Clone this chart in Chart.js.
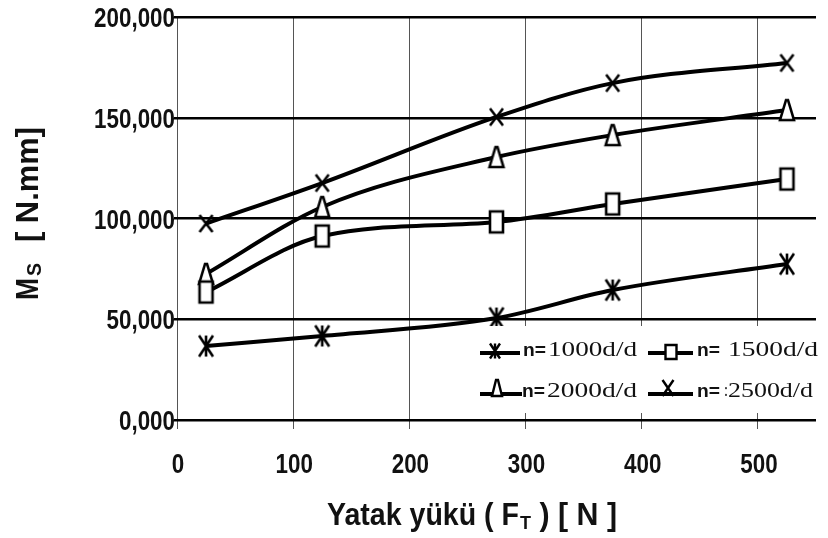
<!DOCTYPE html>
<html>
<head>
<meta charset="utf-8">
<script src="https://cdn.jsdelivr.net/npm/chart.js"></script>
<style>
html, body { margin: 0; padding: 0; background: #fff; }
#wrap { width: 828px; height: 538px; position: relative; }
</style>
</head>
<body>
<div id="wrap"><canvas id="myChart"></canvas></div>
<script>
// bearing load [N]
var loads = [25, 125, 275, 375, 525];
// friction moment Ms [N.mm] per speed
var n1000 = [36700, 41700, 50600, 64500, 77400];
var n1500 = [63500, 91300, 98300, 107200, 119600];
var n2000 = [72500, 105700, 130500, 141400, 153800];
var n2500 = [97500, 117600, 150400, 167200, 177200];
var speeds = ['1000d/d', '1500d/d', '2000d/d', '2500d/d'];
var xTicks = [0, 100, 200, 300, 400, 500];
var yTicks = [0, 50000, 100000, 150000, 200000];

function drawMarker(ctx, kind, cx, cy, w, h, lw) {
    ctx.save();
    ctx.strokeStyle = '#000';
    ctx.fillStyle = '#fff';
    ctx.lineWidth = lw;
    var l = cx - w / 2, r = cx + w / 2, t = cy - h / 2, b = cy + h / 2;
    ctx.beginPath();
    if (kind == 'star') {
        ctx.moveTo(l, t); ctx.lineTo(r, b);
        ctx.moveTo(r, t); ctx.lineTo(l, b);
        ctx.moveTo(cx, t); ctx.lineTo(cx, b);
        ctx.stroke();
    } else if (kind == 'cross') {
        ctx.moveTo(l, t); ctx.lineTo(r, b);
        ctx.moveTo(r, t); ctx.lineTo(l, b);
        ctx.stroke();
    } else if (kind == 'rect') {
        ctx.rect(l, t, w, h);
        ctx.fill(); ctx.stroke();
    } else {
        ctx.moveTo(l, b); ctx.lineTo(cx - 1, t); ctx.lineTo(cx + 1, t); ctx.lineTo(r, b);
        ctx.closePath();
        ctx.fill(); ctx.stroke();
    }
    ctx.restore();
}

function markerCanvas(kind, w, h) {
    var c = document.createElement('canvas');
    c.width = w + 6;
    c.height = h + 6;
    drawMarker(c.getContext('2d'), kind, c.width / 2, c.height / 2, w, h, 2.6);
    return c;
}

var kinds = ['star', 'rect', 'tri', 'cross'];
var markers = [
    markerCanvas('star', 14, 21),
    markerCanvas('rect', 13, 21),
    markerCanvas('tri', 14, 20),
    markerCanvas('cross', 13, 17)
];

function pts(vals) {
    return loads.map(function (x, i) { return { x: x, y: vals[i] }; });
}

function drawFit(ctx, s, x, y, font, w) {
    ctx.save();
    ctx.font = font;
    var m = ctx.measureText(s).width;
    ctx.translate(x, y);
    ctx.scale(w / m, 1);
    ctx.fillText(s, 0, 0);
    ctx.restore();
}

// narrow text: natural width squeezed by a factor
function drawNarrow(ctx, s, x, y, font, k, align) {
    ctx.save();
    ctx.font = font;
    var m = ctx.measureText(s).width * k;
    var x0 = align == 'right' ? x - m : (align == 'center' ? x - m / 2 : x);
    ctx.translate(x0, y);
    ctx.scale(k, 1);
    ctx.textAlign = 'left';
    ctx.fillText(s, 0, 0);
    ctx.restore();
}

var sans = "'Liberation Sans', Arial, sans-serif";
var serif = "'Liberation Serif', 'Times New Roman', serif";

var extras = {
    id: 'extras',
    afterDraw: function (chart) {
        var ctx = chart.ctx;
        var xs = chart.scales.x, ys = chart.scales.y;
        ctx.save();
        ctx.fillStyle = '#111';
        ctx.textBaseline = 'alphabetic';
        ctx.textAlign = 'left';

        // tick labels
        xs.ticks.forEach(function (t) {
            drawNarrow(ctx, String(t.value), xs.getPixelForValue(t.value) + 1, 473, 'bold 28px ' + sans, 0.8, 'center');
        });
        ys.ticks.forEach(function (t) {
            var lab = (t.value / 1000).toFixed(3).replace('.', ',');
            drawNarrow(ctx, lab, 175, ys.getPixelForValue(t.value) + 10, 'bold 28px ' + sans, 0.8, 'right');
        });

        // x axis title with subscript
        drawFit(ctx, 'Yatak yükü ( F', 327, 525, 'bold 31px ' + sans, 192);
        drawFit(ctx, 'T', 520, 529, 'bold 19px ' + sans, 11);
        drawFit(ctx, ' ) [ N ]', 531, 525, 'bold 31px ' + sans, 86);

        // y axis title, rotated
        ctx.save();
        ctx.translate(38, 300);
        ctx.rotate(-Math.PI / 2);
        drawFit(ctx, 'M', 0, 0, 'bold 31px ' + sans, 22);
        drawFit(ctx, 'S', 24, 3, 'bold 20px ' + sans, 13);
        drawFit(ctx, '[ N.mm]', 58, 0, 'bold 31px ' + sans, 115);
        ctx.restore();

        // legend box
        ctx.fillStyle = '#fff';
        ctx.fillRect(472, 326, 356, 87);
        var pos = [[480, 353, 523, 548], [648, 353, 697, 728], [480, 394, 522, 547], [648, 394, 697, 728]];
        var lineEnd = [520, 693, 522, 693];
        var mk = [[495, 351, 10, 15], [671, 352, 11, 14], [497, 388, 10, 16], [668, 388, 11, 16]];
        var textW = [89, 90, 90, 85];
        for (var i = 0; i < 4; i++) {
            var p = pos[i];
            ctx.strokeStyle = '#000';
            ctx.lineWidth = 4;
            ctx.beginPath();
            ctx.moveTo(p[0], p[1]);
            ctx.lineTo(lineEnd[i], p[1]);
            ctx.stroke();
            drawMarker(ctx, kinds[i], mk[i][0], mk[i][1], mk[i][2], mk[i][3], 2.4);
            ctx.fillStyle = '#111';
            drawFit(ctx, 'n=', p[2], p[1] + 3, 'bold 19px ' + sans, 23);
            if (i == 3) drawFit(ctx, ':', 724, p[1] + 2, '18px ' + serif, 4);
            drawFit(ctx, speeds[i], p[3], p[1] + 3, '22px ' + serif, textW[i]);
        }
        ctx.restore();
    }
};

var lineStyle = {
    borderColor: '#000',
    backgroundColor: '#000',
    borderWidth: 4,
    cubicInterpolationMode: 'monotone',
    pointRadius: 8,
    fill: false
};

function makeSet(i, vals) {
    return Object.assign({ label: 'n=' + speeds[i], data: pts(vals), pointStyle: markers[i] }, lineStyle);
}

var ctx = document.getElementById('myChart').getContext('2d');
var myChart = new Chart(ctx, {
    type: 'line',
    data: {
        datasets: [
            makeSet(0, n1000),
            makeSet(1, n1500),
            makeSet(2, n2000),
            makeSet(3, n2500)
        ]
    },
    options: {
        responsive: true,
        maintainAspectRatio: false,
        animation: false,
        layout: {
            padding: { left: 0, right: 10, top: 17, bottom: 0 }
        },
        plugins: {
            colors: { enabled: false },
            legend: { display: false },
            tooltip: { enabled: false }
        },
        scales: {
            x: {
                type: 'linear',
                min: 0,
                max: 550,
                afterBuildTicks: function (scale) {
                    scale.ticks = xTicks.map(function (v) { return { value: v }; });
                },
                afterFit: function (scale) { scale.height = 118; },
                border: { display: false },
                grid: {
                    color: '#555',
                    lineWidth: 1,
                    tickLength: 9
                },
                ticks: { display: false }
            },
            y: {
                min: 0,
                max: 200000,
                afterBuildTicks: function (scale) {
                    scale.ticks = yTicks.map(function (v) { return { value: v }; });
                },
                afterFit: function (scale) { scale.width = 177; },
                border: { display: false },
                grid: {
                    color: '#000',
                    lineWidth: 2.5,
                    tickLength: 3
                },
                ticks: { display: false }
            }
        }
    },
    plugins: [extras]
});
</script>
</body>
</html>
